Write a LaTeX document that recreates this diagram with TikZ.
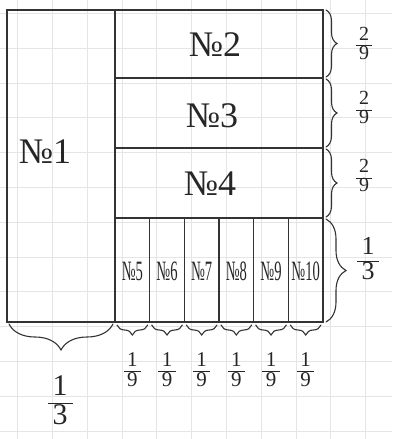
\documentclass[tikz,border=0pt]{standalone}
\usepackage{fontspec}
\setmainfont{Liberation Serif}
\usetikzlibrary{decorations.pathreplacing}
\newcommand{\fracx}[2]{{\setlength{\arrayrulewidth}{1pt}\renewcommand{\arraystretch}{0.85}\begin{tabular}{@{\,}c@{\,}}#1\\\hline #2\end{tabular}}}
\begin{document}
\begin{tikzpicture}[x=1pt,y=-1pt,
  ink/.style={line width=1.1pt, draw=black!80, line cap=round},
  gridline/.style={line width=0.5pt, draw=black!10},
  br/.style={ink, decoration={brace, amplitude=#1}, decorate},
  big/.style={font=\fontsize{36}{40}\selectfont, text=black!85},
  small/.style={font=\fontsize{28}{32}\selectfont, text=black!85, xscale=0.52},
  fr/.style={font=\fontsize{#1}{#1}\selectfont, text=black!85, inner sep=0pt}]
\useasboundingbox (0,0) rectangle (392,439);
\fill[white] (0,0) rectangle (392,439);
% grid paper
\foreach \k in {0,...,12} \draw[gridline] (0,{13.2+34.8*\k}) -- (392,{13.2+34.8*\k});
\foreach \k in {0,...,10} \draw[gridline] ({17.4+34.8*\k},0) -- ({17.4+34.8*\k},439);
% main rectangle
\draw[ink] (7,10) rectangle (323,322);
\draw[ink] (115,10) -- (115,322);
\foreach \y in {78,148,218} \draw[ink] (115,\y) -- (323,\y);
\foreach \i in {1,...,5} \draw[ink] ({115+34.67*\i},218) -- ({115+34.67*\i},322);
% labels
\node[big] (n1) at (45,152) {№1};
\node[big] (n2) at (215,45) {№2};
\node[big] (n3) at (212,116) {№3};
\node[big] (n4) at (210,184) {№4};
\foreach \i/\t in {1/5,2/6,3/7,4/8,5/9,6/10}
  \node[small] (c\t) at ({115+34.67*\i-17.33},271) {№\t};
% right braces
\draw[br=11pt] (326,10) -- (326,77);
\draw[br=11pt] (326,79) -- (326,147);
\draw[br=11pt] (326,149) -- (326,217);
\draw[br=20pt] (326,219) -- (326,322);
\node[fr=20pt] (r1) at (364,46) {\fracx{2}{9}};
\node[fr=20pt] (r2) at (364,110) {\fracx{2}{9}};
\node[fr=20pt] (r3) at (364,178) {\fracx{2}{9}};
\node[fr=26pt] (r4) at (368,262) {\fracx{1}{3}};
% bottom braces
\draw[br=26pt] (113,324) -- (9,324);
\node[fr=30pt] (b0) at (60,404) {\fracx{1}{3}};
\foreach \i in {1,...,6} {
  \draw[br=10pt] ({115+34.67*\i-2},325) -- ({115+34.67*(\i-1)+2},325);
  \node[fr=21pt] (b\i) at ({115+34.67*\i-17.33},372) {\fracx{1}{9}};
}
\end{tikzpicture}
\end{document}
